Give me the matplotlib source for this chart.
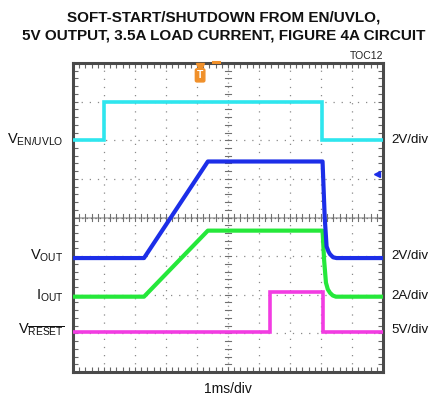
import numpy as np
import matplotlib
matplotlib.use("Agg")
import matplotlib.pyplot as plt
from matplotlib import font_manager as fm

# ---------------- data (units: scope divisions) ----------------
en_t = [0, 1.0, 1.0, 8.02, 8.02, 10]
en_v = [6.0, 6.0, 6.98, 6.98, 6.0, 6.0]

vout_t = [0, 2.29, 4.35, 8.05, 8.12, 8.18, 8.24, 8.29, 8.39, 8.5, 10]
vout_v = [2.95, 2.95, 5.45, 5.45, 4.0, 3.25, 3.12, 3.05, 2.97, 2.95, 2.95]

iout_t = [0, 2.29, 4.35, 8.05, 8.1, 8.16, 8.22, 8.29, 8.38, 8.48, 10]
iout_v = [1.95, 1.95, 3.66, 3.66, 2.9, 2.31, 2.14, 2.05, 1.98, 1.95, 1.95]

reset_t = [0, 6.35, 6.35, 8.05, 8.05, 10]
reset_v = [1.04, 1.04, 2.06, 2.06, 1.04, 1.04]

left_labels = [r"V$_{\mathrm{EN/UVLO}}$", r"V$_{\mathrm{OUT}}$", r"I$_{\mathrm{OUT}}$",
               r"V$_{\overline{\mathrm{RESET}}}$"]
label_levels = [6.0, 3.0, 1.97, 1.09]
right_labels = ["2V/div", "2V/div", "2A/div", "5V/div"]

title = "SOFT-START/SHUTDOWN FROM EN/UVLO,\n5V OUTPUT, 3.5A LOAD CURRENT, FIGURE 4A CIRCUIT"
x_label = "1ms/div"
trigger_time = 4.1
ref_level = 5.13

# ---------------- fonts ----------------
names = {f.name for f in fm.fontManager.ttflist}
fam = "Liberation Sans Narrow" if "Liberation Sans Narrow" in names else "Liberation Sans"
plt.rcParams["font.family"] = [fam, "DejaVu Sans"]
plt.rcParams["mathtext.fontset"] = "custom"
plt.rcParams["mathtext.rm"] = fam
plt.rcParams["mathtext.it"] = fam
plt.rcParams["mathtext.bf"] = fam

fig = plt.figure(figsize=(4.31, 4.01), dpi=100)
ax = fig.add_axes([73/431, 1-372/401, 310/431, 309/401])
ax.set_xlim(0, 10)
ax.set_ylim(0, 8)

# grid
grid_c = "#8a8a8a"
for x in range(1, 10):
    if x == 5:
        continue
    ax.axvline(x, color=grid_c, lw=0.9, ls=(0, (1, 5.5)), zorder=1)
for y in range(1, 8):
    if y == 4:
        continue
    ax.axhline(y, color=grid_c, lw=0.9, ls=(0, (1, 5.5)), zorder=1)
# center lines
ax.axvline(5, color="#9a9a9a", lw=0.9, ls=(0, (1, 2.5)), zorder=1)
ax.axhline(4, color="#b8b8b8", lw=1.4, zorder=1)
ax.axhline(4, color="#707070", lw=0.9, ls=(0, (1, 2.5)), zorder=1)
for x in np.arange(0.2, 10, 0.2):
    ax.plot([x, x], [3.92, 4.08], color="#707070", lw=0.8, zorder=1)
for y in np.arange(0.2, 8, 0.2):
    ax.plot([4.9, 5.1], [y, y], color="#707070", lw=0.8, zorder=1)

# border ticks
ax.set_xticks(np.arange(0, 10.01, 0.2))
ax.set_yticks(np.arange(0, 8.01, 0.2))
ax.tick_params(direction="in", length=3.5, width=0.8, color="#666666",
               top=True, right=True, labelbottom=False, labelleft=False)
for s in ax.spines.values():
    s.set_color("#4a4a4a")
    s.set_linewidth(2.2)

# traces
ax.plot(en_t, en_v, color="#2ee6ee", lw=2.6, zorder=3, solid_joinstyle="miter")
ax.plot(reset_t, reset_v, color="#f23ce2", lw=2.6, zorder=3, solid_joinstyle="miter")
ax.plot(iout_t, iout_v, color="#25e83a", lw=3.0, zorder=4)
ax.plot(vout_t, vout_v, color="#1c2ee8", lw=3.0, zorder=5)

# markers
ax.plot([trigger_time], [7.9], marker="v", color="#f0902a", ms=6, clip_on=False, zorder=6)
ax.text(trigger_time, 7.68, "T", color="white", fontsize=7.5, fontweight="bold",
        ha="center", va="center", zorder=7,
        bbox=dict(boxstyle="round,pad=0.15", fc="#f0902a", ec="#f0902a"))
ax.plot([trigger_time + 0.42, trigger_time + 0.62], [8.02, 8.02], color="#f0902a",
        lw=2.2, clip_on=False, zorder=6)
ax.plot([9.8], [ref_level], marker="<", color="#1c2ee8", ms=5, zorder=6)

# labels
for lab, lv, rl in zip(left_labels, label_levels, right_labels):
    ax.text(-0.03, lv, lab, transform=ax.get_yaxis_transform(), ha="right",
            va="center", fontsize=10.5, color="#111111")
    ax.text(1.027, lv, rl, transform=ax.get_yaxis_transform(), ha="left",
            va="center", fontsize=9.6, color="#111111")

ax.text(0.5, -0.033, x_label, transform=ax.transAxes, ha="center", va="top",
        fontsize=10, color="#111111")
ax.text(1.0, 1.005, "TOC12", transform=ax.transAxes, ha="right", va="bottom",
        fontsize=7.5, color="#222222")
fig.text(224/431, 1-10/401, title, ha="center", va="top", fontsize=11,
         fontweight="bold", linespacing=1.45, color="#111111")

fig.savefig("out.png", dpi=100)
